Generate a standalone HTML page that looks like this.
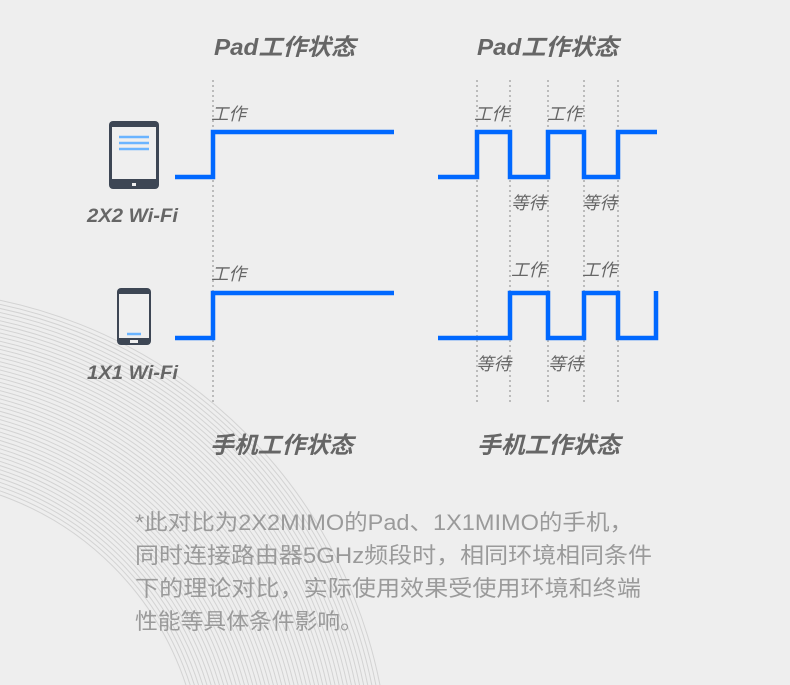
<!DOCTYPE html>
<html><head><meta charset="utf-8"><style>
html,body{margin:0;padding:0;background:#eeeeee;width:790px;height:685px;overflow:hidden;}
svg{display:block}
.t{font-family:"Liberation Sans","Noto Sans CJK SC",sans-serif;font-weight:bold;font-style:italic;fill:#666;}
.s{font-family:"Liberation Sans","Noto Sans CJK SC",sans-serif;fill:#666;font-size:17.5px;font-style:italic}
.n{font-family:"Liberation Sans","Noto Sans CJK SC",sans-serif;fill:#9a9a9a;font-size:22px;}
</style></head><body>
<svg width="790" height="685" viewBox="0 0 790 685" xmlns="http://www.w3.org/2000/svg">
<defs><clipPath id="c"><rect width="790" height="685"/></clipPath></defs>
<rect width="790" height="685" fill="#eeeeee"/>
<g fill="none" stroke="#d3d3d3" stroke-width="1" clip-path="url(#c)">
<circle cx="-100" cy="779" r="489"/><circle cx="-100" cy="779" r="485"/><circle cx="-100" cy="779" r="481"/><circle cx="-100" cy="779" r="477"/><circle cx="-100" cy="779" r="473"/><circle cx="-100" cy="779" r="469"/><circle cx="-100" cy="779" r="465"/><circle cx="-100" cy="779" r="461"/><circle cx="-100" cy="779" r="457"/><circle cx="-100" cy="779" r="453"/><circle cx="-100" cy="779" r="449"/><circle cx="-100" cy="779" r="445"/><circle cx="-100" cy="779" r="441"/><circle cx="-100" cy="779" r="437"/><circle cx="-100" cy="779" r="433"/><circle cx="-100" cy="779" r="429"/><circle cx="-100" cy="779" r="425"/><circle cx="-100" cy="779" r="421"/><circle cx="-100" cy="779" r="417"/><circle cx="-100" cy="779" r="413"/><circle cx="-100" cy="779" r="409"/><circle cx="-100" cy="779" r="405"/><circle cx="-100" cy="779" r="401"/><circle cx="-100" cy="779" r="397"/><circle cx="-100" cy="779" r="393"/><circle cx="-100" cy="779" r="389"/><circle cx="-100" cy="779" r="385"/><circle cx="-100" cy="779" r="381"/><circle cx="-100" cy="779" r="377"/><circle cx="-100" cy="779" r="373"/><circle cx="-100" cy="779" r="369"/><circle cx="-100" cy="779" r="365"/><circle cx="-100" cy="779" r="361"/><circle cx="-100" cy="779" r="357"/><circle cx="-100" cy="779" r="353"/><circle cx="-100" cy="779" r="349"/><circle cx="-100" cy="779" r="345"/><circle cx="-100" cy="779" r="341"/><circle cx="-100" cy="779" r="337"/><circle cx="-100" cy="779" r="333"/><circle cx="-100" cy="779" r="329"/><circle cx="-100" cy="779" r="325"/><circle cx="-100" cy="779" r="321"/><circle cx="-100" cy="779" r="317"/><circle cx="-100" cy="779" r="313"/><circle cx="-100" cy="779" r="309"/><circle cx="-100" cy="779" r="305"/><circle cx="-100" cy="779" r="301"/>
</g>
<g stroke="#aaaaaa" stroke-width="1.5" stroke-dasharray="2,3">
<line x1="213" y1="80" x2="213" y2="405"/>
<line x1="477" y1="80" x2="477" y2="405"/>
<line x1="510" y1="80" x2="510" y2="405"/>
<line x1="548" y1="80" x2="548" y2="405"/>
<line x1="584" y1="80" x2="584" y2="405"/>
<line x1="618" y1="80" x2="618" y2="405"/>
</g>
<g fill="none" stroke="#0068ff" stroke-width="4.5">
<polyline points="175,177 213,177 213,132 394,132"/>
<polyline points="175,338 213,338 213,293 394,293"/>
<polyline points="438,177 477,177 477,132 510,132 510,177 548,177 548,132 584,132 584,177 618,177 618,132 657,132"/>
<polyline points="438,338 510,338 510,293 548,293 548,338 584,338 584,293 618,293 618,338 656,338 656,291"/>
</g>
<rect x="109" y="121" width="50" height="68" rx="4" fill="#3d4654"/>
<rect x="112" y="127" width="44" height="52" fill="#efefef"/>
<g stroke="#6ab4ff" stroke-width="2.5"><line x1="119" y1="137" x2="149" y2="137"/><line x1="119" y1="143" x2="149" y2="143"/><line x1="119" y1="149" x2="149" y2="149"/></g>
<rect x="132" y="183" width="4" height="3" fill="#eee"/>
<rect x="117" y="288" width="34" height="57" rx="4" fill="#3d4654"/>
<rect x="119" y="294" width="30" height="44" fill="#efefef"/>
<line x1="127" y1="334" x2="141" y2="334" stroke="#6ab4ff" stroke-width="2.5"/>
<rect x="130" y="340" width="8" height="3" fill="#eee"/>
<text class="t" x="214" y="55" font-size="23" textLength="141" lengthAdjust="spacingAndGlyphs">Pad工作状态</text>
<text class="t" x="477" y="55" font-size="23" textLength="141" lengthAdjust="spacingAndGlyphs">Pad工作状态</text>
<text class="t" x="210" y="453" font-size="23" textLength="143" lengthAdjust="spacingAndGlyphs">手机工作状态</text>
<text class="t" x="477" y="453" font-size="23" textLength="143" lengthAdjust="spacingAndGlyphs">手机工作状态</text>
<text class="t" x="87" y="222" font-size="19" textLength="91" lengthAdjust="spacingAndGlyphs">2X2 Wi-Fi</text>
<text class="t" x="87" y="379" font-size="19" textLength="91" lengthAdjust="spacingAndGlyphs">1X1 Wi-Fi</text>
<text class="s" x="211" y="120">工作</text>
<text class="s" x="211" y="280">工作</text>
<text class="s" x="474" y="120">工作</text>
<text class="s" x="547" y="120">工作</text>
<text class="s" x="511" y="209">等待</text>
<text class="s" x="582" y="209">等待</text>
<text class="s" x="511" y="276">工作</text>
<text class="s" x="582" y="276">工作</text>
<text class="s" x="476" y="370">等待</text>
<text class="s" x="548" y="370">等待</text>
<text class="n" x="135" y="530" textLength="498" lengthAdjust="spacingAndGlyphs">*此对比为2X2MIMO的Pad、1X1MIMO的手机，</text>
<text class="n" x="135" y="563" textLength="517" lengthAdjust="spacingAndGlyphs">同时连接路由器5GHz频段时，相同环境相同条件</text>
<text class="n" x="135" y="596" textLength="506" lengthAdjust="spacingAndGlyphs">下的理论对比，实际使用效果受使用环境和终端</text>
<text class="n" x="135" y="629" textLength="228" lengthAdjust="spacingAndGlyphs">性能等具体条件影响。</text>
</svg>
</body></html>
